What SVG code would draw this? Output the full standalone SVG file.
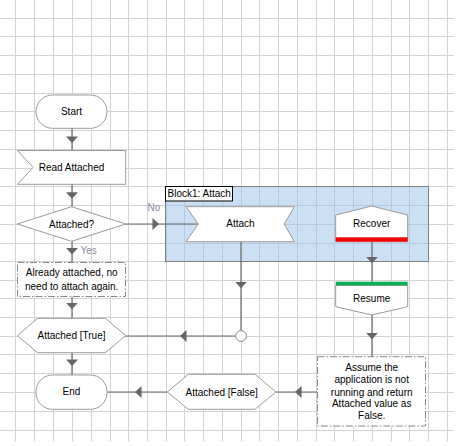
<svg xmlns="http://www.w3.org/2000/svg" width="460" height="446" viewBox="0 0 460 446">
<defs>
<style>
.grid{stroke:#d3d3d3;stroke-width:1;fill:none}
.node{fill:#fff;stroke:#9a9a9a;stroke-width:1}
.note{fill:#fff;stroke:#8a8a8a;stroke-width:1;stroke-dasharray:7 2 1.5 2}
.t{font-family:"Liberation Sans",Arial,sans-serif;font-size:10px;fill:#000;text-anchor:middle}
.lbl{font-family:"Liberation Sans",Arial,sans-serif;font-size:10px;fill:#8c8c9e}
.conn{fill:none;stroke:#6a6a6a;stroke-width:1.2;marker-mid:url(#ah)}
</style>
<marker id="ah" markerUnits="userSpaceOnUse" markerWidth="7" markerHeight="12" viewBox="0 0 6 11" refX="6" refY="5.5" orient="auto">
<path d="M0,0 L6,5.5 L0,11 z" fill="#666"/>
</marker>
</defs>
<rect width="460" height="446" fill="#fff"/>
<path class="grid" d="M15.5,0V441M34.5,0V441M53.5,0V441M72.5,0V441M91.5,0V441M110.5,0V441M128.5,0V441M147.5,0V441M166.5,0V441M184.5,0V441M203.5,0V441M222.5,0V441M241.5,0V441M259.5,0V441M278.5,0V441M297.5,0V441M316.5,0V441M334.5,0V441M353.5,0V441M372.5,0V441M391.5,0V441M409.5,0V441M428.5,0V441M447.5,0V441
M0,18.5H454M0,36.5H454M0,55.5H454M0,74.5H454M0,93.5H454M0,111.5H454M0,130.5H454M0,149.5H454M0,168.5H454M0,186.5H454M0,205.5H454M0,224.5H454M0,243.5H454M0,261.5H454M0,280.5H454M0,298.5H454M0,317.5H454M0,336.5H454M0,354.5H454M0,373.5H454M0,392.5H454M0,411.5H454M0,430.5H454"/>

<g id="block1">
<rect x="165.5" y="186.5" width="263" height="75" fill="#99c2eb" fill-opacity="0.5" stroke="#7f7f7f" stroke-width="1"/>
<rect x="165.5" y="186.5" width="67" height="14.5" fill="#fff" stroke="#000" stroke-width="1"/>
<text x="167.5" y="197.4" style="font-family:'Liberation Sans',Arial,sans-serif;font-size:10px;fill:#000">Block1: Attach</text>
</g>

<g id="connectors">
<path class="conn" d="M72,128.5 V143 V150"/>
<path class="conn" d="M72,184.5 V198.7 V206.7"/>
<path class="conn" d="M72,241.3 V254.5 V262.3"/>
<path class="conn" d="M72,296.7 V309.3 V318.3"/>
<path class="conn" d="M72,352.7 V366 V375"/>
<path class="conn" d="M125.7,224 H159 H198.3"/>
<path class="conn" d="M241,241.7 V288.3 V330.5"/>
<path class="conn" d="M235.5,336 H180 H125.7"/>
<path class="conn" d="M372,241.7 V263.3 V281.7"/>
<path class="conn" d="M372,315 V339.3 V356.7"/>
<path class="conn" d="M317.3,392 H295 H276"/>
<path class="conn" d="M167.3,392 H135 H107.3"/>
<circle cx="241" cy="336" r="5.4" fill="#fff" stroke="#8a8a8a" stroke-width="1"/>
<text class="lbl" x="147.5" y="210.9">No</text>
<text class="lbl" x="80.5" y="253.6">Yes</text>
</g>

<g id="start">
<rect class="node" x="36" y="95" width="71" height="33.3" rx="16.5"/>
<text class="t" x="71.5" y="115.1">Start</text>
</g>

<g id="read-attached">
<polygon class="node" points="17.5,150.5 125.7,150.5 125.7,184.3 17.5,184.3 33,167.4"/>
<text class="t" x="71.5" y="171.3">Read Attached</text>
</g>

<g id="attached-q">
<polygon class="node" points="17.3,224 71.5,206.7 125.7,224 71.5,241.3"/>
<text class="t" x="71.5" y="227.6">Attached?</text>
</g>

<g id="note-already">
<rect class="note" x="17.5" y="262.5" width="108" height="34"/>
<text class="t" x="71.7" y="276.3">Already attached, no</text>
<text class="t" x="71.7" y="289.6">need to attach again.</text>
</g>

<g id="attached-true">
<polygon class="node" points="17.3,335.6 37.7,318.3 105.3,318.3 125.7,335.6 105.3,352.7 37.7,352.7"/>
<text class="t" x="71.5" y="339.3">Attached [True]</text>
</g>

<g id="end">
<rect class="node" x="36" y="375" width="71" height="34.3" rx="16.5"/>
<text class="t" x="71.5" y="394.8">End</text>
</g>

<g id="attach">
<polygon class="node" points="186,206.7 294.3,206.7 284.3,224 294.3,241.7 186,241.7 198.3,224"/>
<text class="t" x="240.5" y="227.4">Attach</text>
</g>

<g id="recover">
<polygon class="node" points="335.7,215 371.7,206 407.7,215 407.7,241.7 335.7,241.7"/>
<rect x="335.7" y="237.3" width="72" height="4.4" fill="#ff0000"/>
<text class="t" x="371.7" y="227.4">Recover</text>
</g>

<g id="resume">
<polygon class="node" points="335.7,285.5 407.7,285.5 407.7,306.7 371.7,315 335.7,306.7"/>
<rect x="335.7" y="281.7" width="72" height="3.6" fill="#00b050"/>
<text class="t" x="371.7" y="302.3">Resume</text>
</g>

<g id="note-assume">
<rect class="note" x="317.5" y="356.7" width="108" height="69.3"/>
<text class="t" x="371.7" y="371.3">Assume the</text>
<text class="t" x="371.7" y="383.3">application is not</text>
<text class="t" x="371.7" y="395.6">running and return</text>
<text class="t" x="371.7" y="407.3">Attached value as</text>
<text class="t" x="371.7" y="419.3">False.</text>
</g>

<g id="attached-false">
<polygon class="node" points="167.3,392 188.3,374.3 255,374.3 276,392 255,409.3 188.3,409.3"/>
<text class="t" x="221.7" y="395.6">Attached [False]</text>
</g>
</svg>
